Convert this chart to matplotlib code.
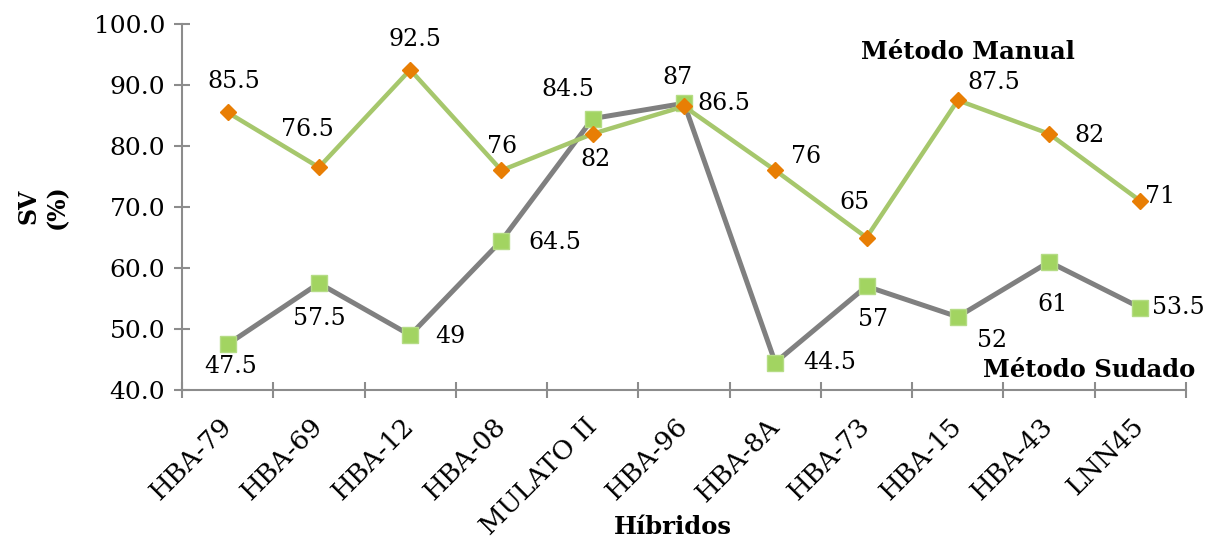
import numpy as np
import matplotlib.pyplot as plt
import matplotlib.transforms as mtransforms
from matplotlib.ticker import FormatStrFormatter

# Datos
hibridos = ["HBA-79", "HBA-69", "HBA-12", "HBA-08", "MULATO II", "HBA-96",
            "HBA-8A", "HBA-73", "HBA-15", "HBA-43", "LNN45"]
sv_manual = [85.5, 76.5, 92.5, 76, 82, 86.5, 76, 65, 87.5, 82, 71]
sv_sudado = [47.5, 57.5, 49, 64.5, 84.5, 87, 44.5, 57, 52, 61, 53.5]

# desplazamiento de cada etiqueta (pixeles)
off_manual = [(6, 31), (-12, 38), (5, 30), (1, 24), (3, -26), (40, 3),
              (31, 14), (-12, 35), (36, 18), (40, -2), (20, 4)]
off_sudado = [(3, -22), (0, -35), (40, -1), (53, -2), (-25, 29), (-7, 26),
              (54, 0), (6, -33), (34, -24), (3, -43), (38, 0)]

GRIS = "#8C8C8C"
plt.rcParams["font.family"] = ["DejaVu Serif"]

fig = plt.figure(figsize=(12.16, 5.39), dpi=100)
ax = fig.add_axes([0.1497, 0.2764, 0.8256, 0.6791])

x = np.arange(len(hibridos))
ax.plot(x, sv_sudado, color="#808080", linewidth=3.6, marker="s",
        markersize=12, markerfacecolor="#A2D461", markeredgecolor="#B5DC85",
        markeredgewidth=1, zorder=3)
ax.plot(x, sv_manual, color="#A6C76C", linewidth=3.2, marker="D",
        markersize=8, markerfacecolor="#E87E04", markeredgecolor="#E87E04",
        zorder=4)

for xi, v, (dx, dy) in zip(x, sv_manual, off_manual):
    ax.annotate(f"{v:g}", (xi, v), xytext=(dx, dy), textcoords="offset pixels",
                ha="center", va="center", fontsize=17, zorder=5)
for xi, v, (dx, dy) in zip(x, sv_sudado, off_sudado):
    ax.annotate(f"{v:g}", (xi, v), xytext=(dx, dy), textcoords="offset pixels",
                ha="center", va="center", fontsize=17, zorder=5)

ax.set_xlim(-0.5, len(hibridos) - 0.5)
ax.set_ylim(40, 100)
ax.set_yticks(np.arange(40, 101, 10))
ax.yaxis.set_major_formatter(FormatStrFormatter("%.1f"))
ax.set_xticks(np.arange(-0.5, len(hibridos), 1.0))
ax.set_xticklabels([])
ax.set_xticks(x, minor=True)
ax.set_xticklabels(hibridos, minor=True, rotation=45, ha="right",
                   rotation_mode="anchor", fontsize=19)
ax.tick_params(axis="x", which="minor", length=0, pad=17)
ax.tick_params(axis="x", which="major", direction="inout", length=12,
               width=1.5, color=GRIS)
ax.tick_params(axis="y", direction="inout", length=12, width=1.5,
               color=GRIS, labelsize=18, pad=6)

# correr un poco a la izquierda las etiquetas giradas
shift = mtransforms.ScaledTranslation(-9 / 100, 0, fig.dpi_scale_trans)
for lbl in ax.get_xticklabels(minor=True):
    lbl.set_transform(lbl.get_transform() + shift)

for s in ["top", "right"]:
    ax.spines[s].set_visible(False)
for s in ["left", "bottom"]:
    ax.spines[s].set_color(GRIS)
    ax.spines[s].set_linewidth(1.5)

fig.text(0.035, 0.617, "SV\n(%)", rotation=90, ha="center", va="center",
         fontsize=17, fontweight="bold", linespacing=1.25)
fig.text(0.553, 0.022, "Híbridos", ha="center", va="center",
         fontsize=17.5, fontweight="bold")

fig.text(0.796, 0.9035, "Método Manual", ha="center", va="center",
         fontsize=17.5, fontweight="bold")
fig.text(0.8956, 0.3135, "Método Sudado", ha="center", va="center",
         fontsize=17.5, fontweight="bold")

fig.savefig("out.png", dpi=100)
